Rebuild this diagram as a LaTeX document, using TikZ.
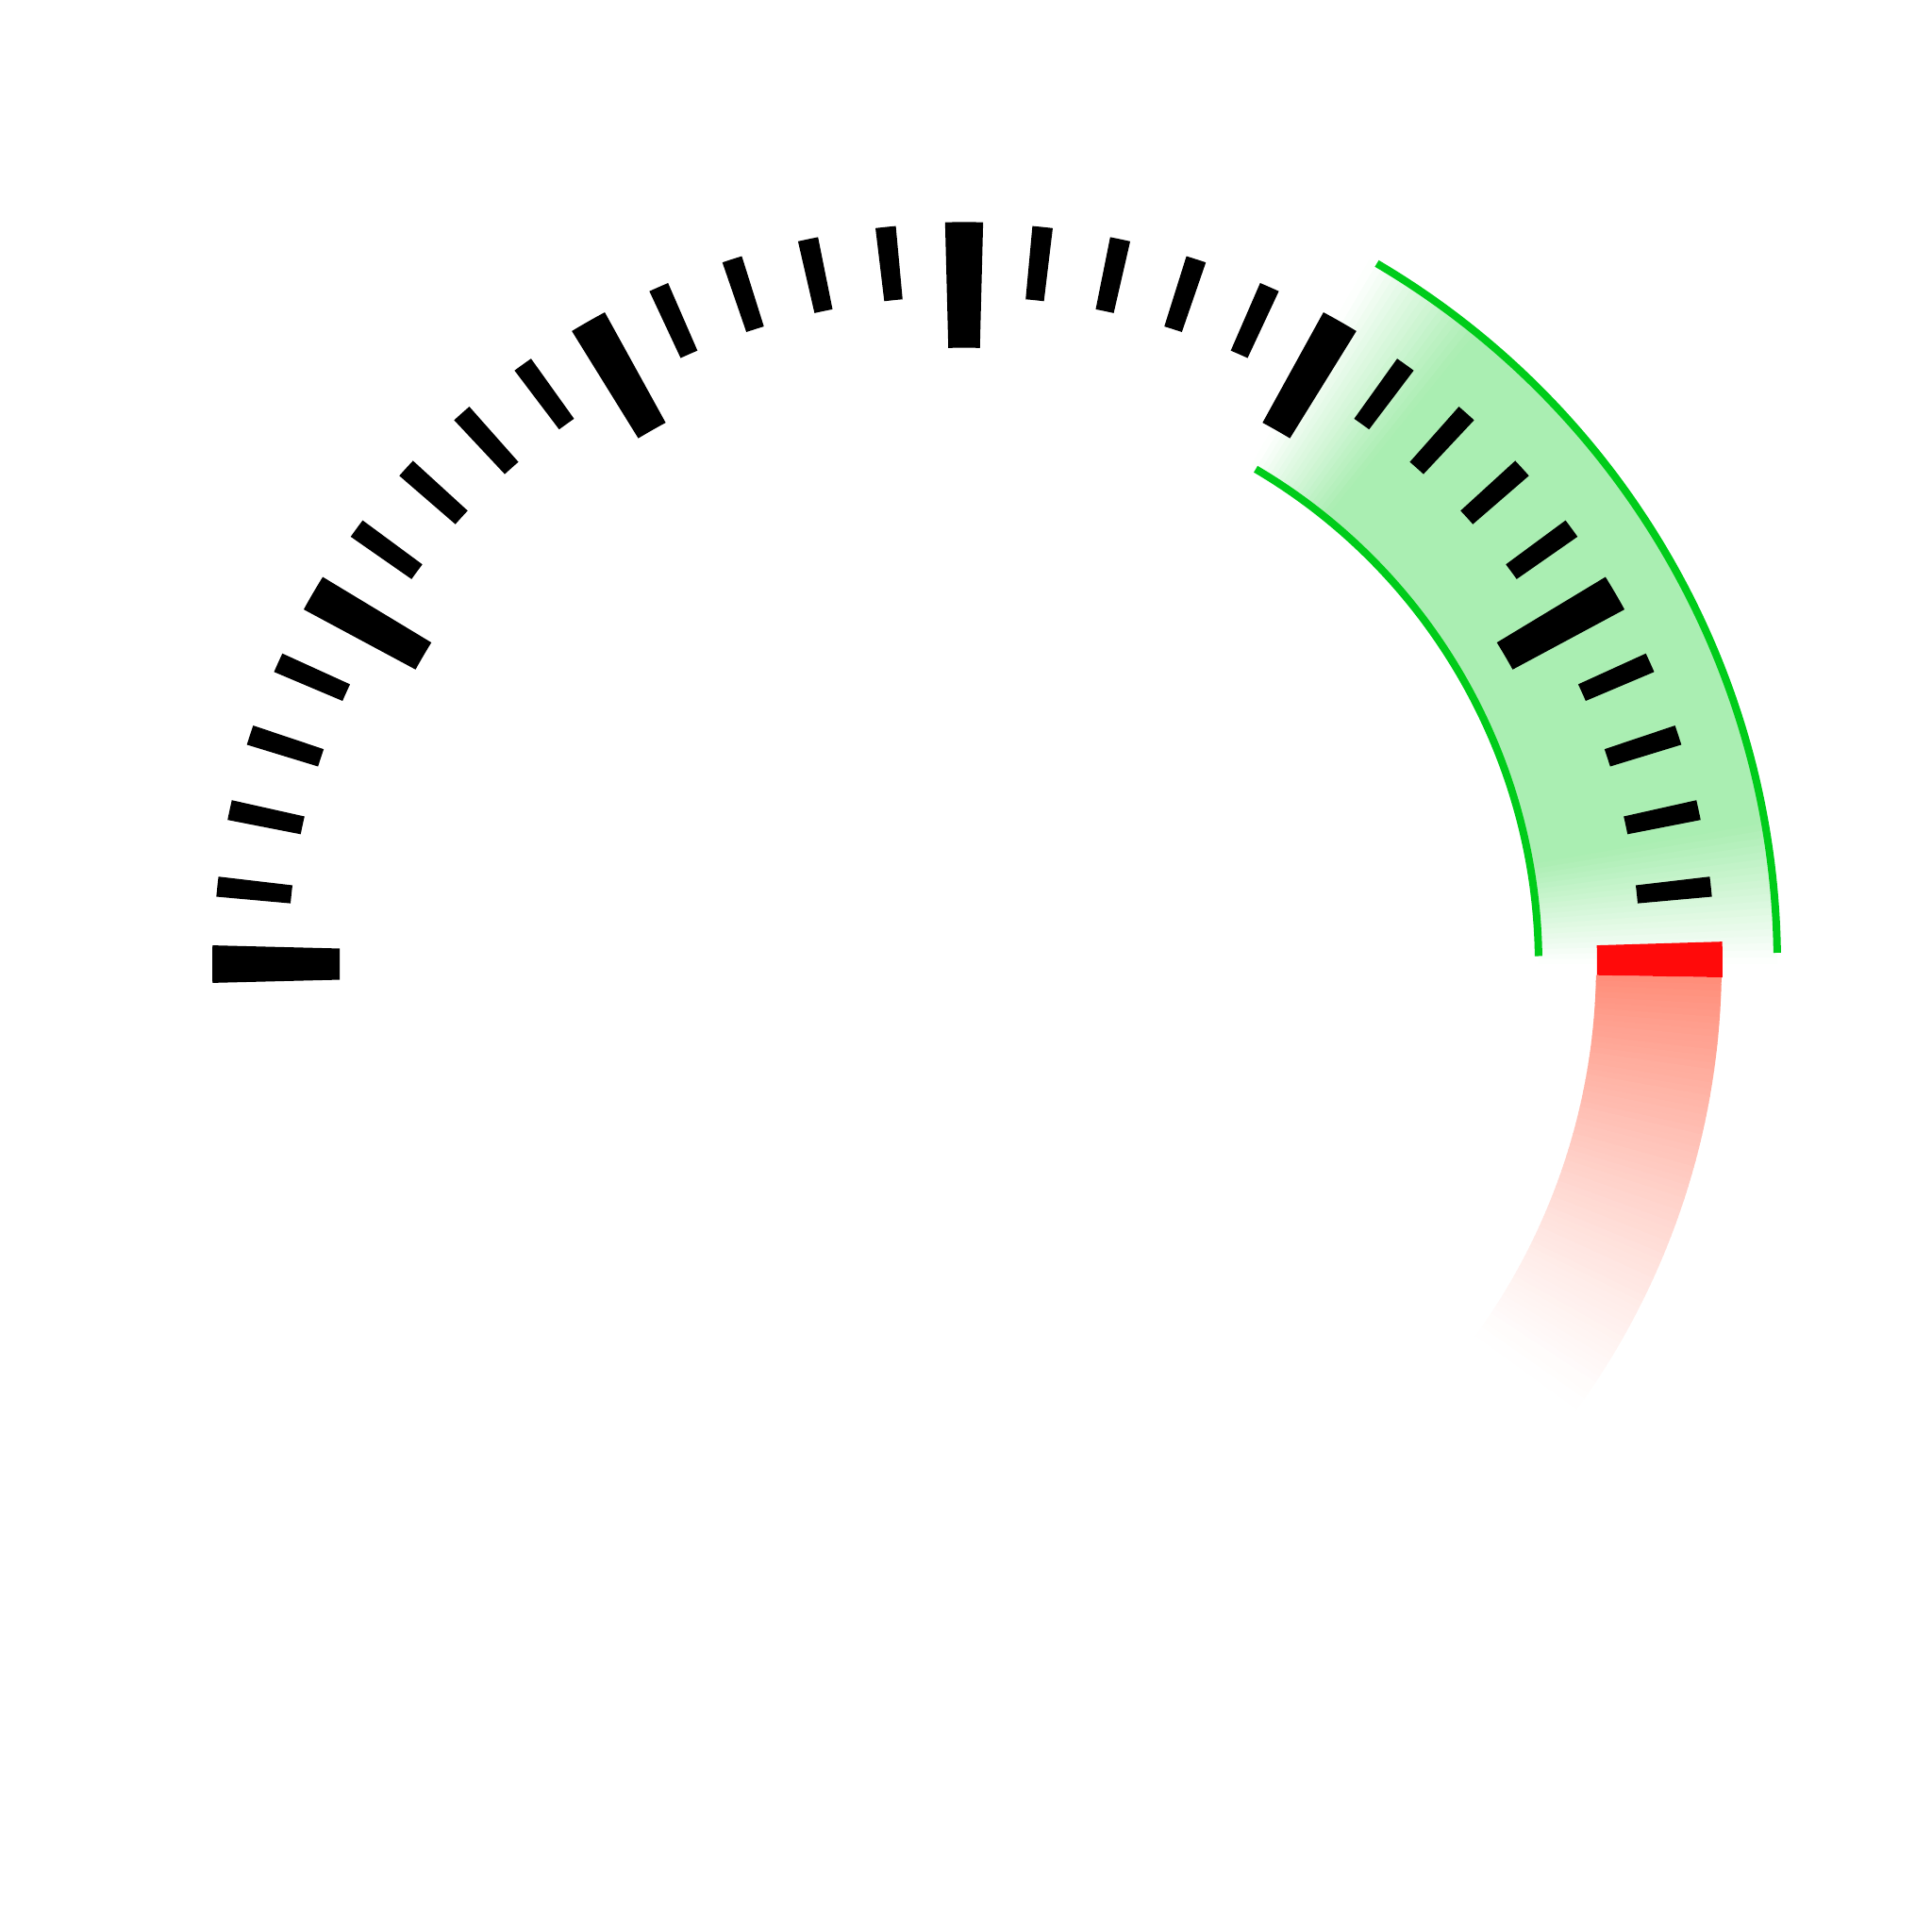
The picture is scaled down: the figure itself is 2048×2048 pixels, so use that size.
\documentclass[tikz,border=0pt]{standalone}
\usepackage{xcolor}
\usepackage{tikz}
\definecolor{gaugegreen}{HTML}{00CC1A}
\definecolor{bandgreen}{HTML}{AAEEB2}
\definecolor{gaugered}{HTML}{FF0A0A}
\definecolor{bandred}{HTML}{FF8E7A}

% ring segment: colour, from angle, to angle, inner radius, outer radius
\newcommand{\ringfill}[5]{%
  \fill[#1] ({#2}:#4) -- ({#2}:#5) arc[start angle={#2}, end angle={#3}, radius=#5]
    -- ({#3}:#4) arc[start angle={#3}, end angle={#2}, radius=#4] -- cycle;}

\begin{document}
\begin{tikzpicture}[x=0.01cm, y=0.01cm,
    greenedge/.style={draw=gaugegreen, line width=0.08cm}]
  \useasboundingbox (-1022,-1026) rectangle (1026,1022);

  % green zone, fading at both ends
  \foreach \a in {0,0.5,...,59.5}{
    \pgfmathtruncatemacro{\t}{100*min(1,min((\a+0.25)/10,(59.75-\a)/9))}
    \ringfill{bandgreen!\t!white}{\a}{\a+0.6}{609}{862}
  }
  % red zone, fading downwards
  \foreach \a in {0,0.5,...,35.5}{
    \pgfmathtruncatemacro{\t}{100*(1-\a/36)^1.4}
    \ringfill{bandred!\t!white}{-\a-1}{-\a-1.6}{670}{803}
  }

  % borders of the green zone
  \draw[greenedge] (0.8:609) arc[start angle=0.8, end angle=59.5, radius=609];
  \draw[greenedge] (0.8:862) arc[start angle=0.8, end angle=59.5, radius=862];

  % red limit mark
  \ringfill{gaugered}{-1}{1.7}{671}{804}

  % major and minor ticks
  \begin{scope}[yscale=0.987]
    \foreach \a in {30,60,...,180}{
      \ringfill{black}{\a-1.45}{\a+1.45}{662}{797}
    }
    \foreach \b in {0,30,...,150}{
      \foreach \k in {6,12,18,24}{
        \ringfill{black}{\b+\k-0.78}{\b+\k+0.78}{717}{796}
      }
    }
  \end{scope}
\end{tikzpicture}
\end{document}
